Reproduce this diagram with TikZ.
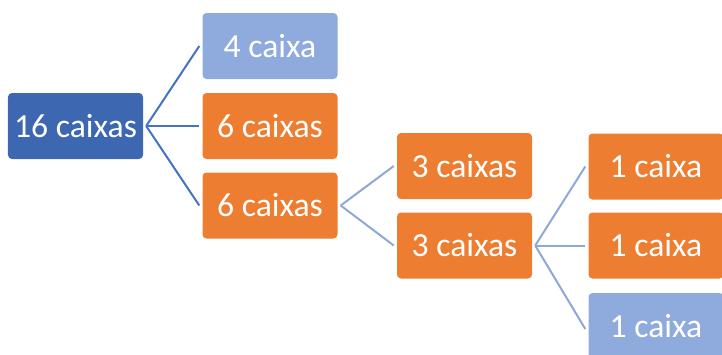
\documentclass[tikz,border=0pt]{standalone}
\usepackage{fontspec}
\setmainfont{Carlito}
\definecolor{darkblue}{HTML}{3E67B1}
\definecolor{paleblue}{HTML}{8FAADC}
\definecolor{orangebox}{HTML}{ED7D31}
\definecolor{linkblue}{HTML}{4472C4}
\definecolor{linkpale}{HTML}{8EA8DA}
\tikzset{
  box/.style={draw=none, rounded corners=4bp, minimum width=135bp, minimum height=66bp,
    inner sep=0pt, text=white, font=\fontsize{33.8}{38}\selectfont},
  rootbox/.style={box, fill=darkblue},
  hotbox/.style={box, fill=orangebox},
  coolbox/.style={box, fill=paleblue},
  linkA/.style={draw=linkblue, line width=2bp},
  linkB/.style={draw=linkpale, line width=2bp},
}
\begin{document}
\begin{tikzpicture}[x=1bp,y=-1bp]
\useasboundingbox (0,0) rectangle (722,354);
\clip (0,0) rectangle (722,354);
\node[rootbox] (r)  at (75.5,126) {16 caixas};
\node[coolbox] (a1) at (270,46) {4 caixa};
\node[hotbox]  (a2) at (270,126) {6 caixas};
\node[hotbox]  (a3) at (270,205.5) {6 caixas};
\node[hotbox]  (b1) at (464.5,166) {3 caixas};
\node[hotbox]  (b2) at (464.5,245.5) {3 caixas};
\node[hotbox]  (c1) at (656,166.5) {1 caixa};
\node[hotbox]  (c2) at (656,245.5) {1 caixa};
\node[coolbox] (c3) at (656,326) {1 caixa};
% first level
\draw[linkA] ([xshift=3bp]r.east) -- ([xshift=-3bp]a1.west);
\draw[linkA] ([xshift=3bp]r.east) -- ([xshift=-3bp]a2.west);
\draw[linkA] ([xshift=3bp]r.east) -- ([xshift=-3bp]a3.west);
% second level
\draw[linkB] ([xshift=3bp]a3.east) -- ([xshift=-3bp]b1.west);
\draw[linkB] ([xshift=3bp]a3.east) -- ([xshift=-3bp]b2.west);
% third level
\draw[linkB] ([xshift=3bp]b2.east) -- ([xshift=-3bp]c1.west);
\draw[linkB] ([xshift=3bp]b2.east) -- ([xshift=-3bp]c2.west);
\draw[linkB] ([xshift=3bp]b2.east) -- ([xshift=-3bp,yshift=-3bp]c3.west);
\end{tikzpicture}
\end{document}
